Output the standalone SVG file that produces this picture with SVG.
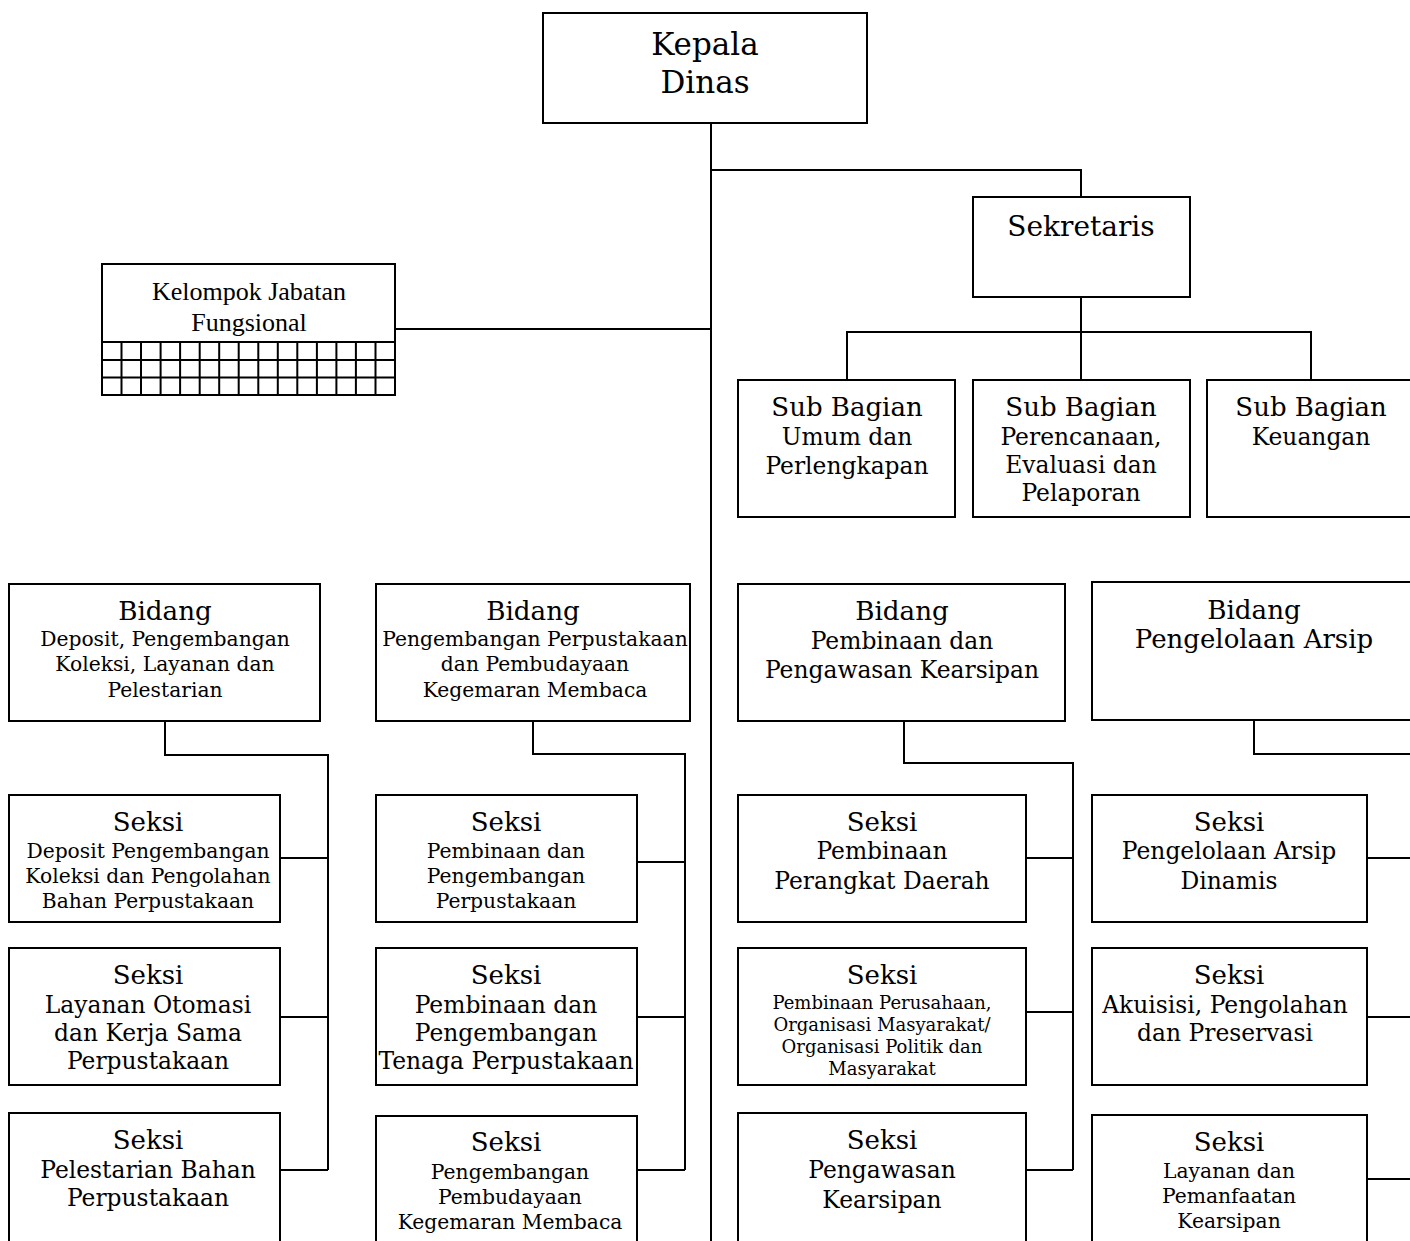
<svg xmlns="http://www.w3.org/2000/svg" width="1410" height="1241" viewBox="0 0 1410 1241">
<style>
.box{fill:#fff;stroke:#000;stroke-width:2}
.ln{fill:none;stroke:#000;stroke-width:2}
text{font-family:"DejaVu Serif","Liberation Serif",serif;fill:#000;text-anchor:middle}
.t32{font-size:31px}
.t28{font-size:28px}
.tb{font-size:26.2px}
.t26{font-size:26px}
.t24{font-size:23.4px}
.t21{font-size:20.3px}
.t17{font-size:18px}
.tm{font-family:"Liberation Serif",serif;font-size:26px}
</style>
<rect width="1410" height="1241" fill="#fff"/>
<g id="connectors">
<path class="ln" d="M711,123 V1241"/>
<path class="ln" d="M711,170 H1081 V197"/>
<path class="ln" d="M395,329 H711"/>
<path class="ln" d="M1081,297 V380 M847,380 V332 H1311 V380"/>
<path class="ln" d="M165,721 V755 H328 V1170 M280,858 H328 M280,1017 H328 M280,1170 H328"/>
<path class="ln" d="M533,721 V754 H685 V1170 M637,862 H685 M637,1017 H685 M637,1170 H685"/>
<path class="ln" d="M904,721 V763 H1073 V1170 M1026,858 H1073 M1024,1012 H1073 M1024,1170 H1073"/>
<path class="ln" d="M1254,720 V754 H1412 M1367,858 H1412 M1367,1017 H1412 M1367,1179 H1412"/>
</g>
<g id="kepala-dinas">
<rect class="box" x="543" y="13" width="324" height="110"/>
<text class="t32" x="705" y="55">Kepala</text>
<text class="t32" x="705" y="93">Dinas</text>
</g>
<g id="sekretaris">
<rect class="box" x="973" y="197" width="217" height="100"/>
<text class="t28" x="1081" y="236">Sekretaris</text>
</g>
<g id="kelompok-jabatan-fungsional">
<rect class="box" x="102" y="264" width="293" height="131"/>
<text class="tm" x="249" y="300">Kelompok Jabatan</text>
<text class="tm" x="249" y="331">Fungsional</text>
<path class="ln" d="M102,342 H395 M102,360 H395 M102,377.5 H395 M121.5,342 V395 M141,342 V395 M160.6,342 V395 M180.1,342 V395 M199.7,342 V395 M219.2,342 V395 M238.7,342 V395 M258.3,342 V395 M277.8,342 V395 M297.3,342 V395 M316.9,342 V395 M336.4,342 V395 M355.9,342 V395 M375.5,342 V395"/>
</g>
<g id="sub-bagian-umum">
<rect class="box" x="738" y="380" width="217" height="137"/>
<text class="t26" x="847" y="416">Sub Bagian</text>
<text class="t24" x="847" y="445">Umum dan</text>
<text class="t24" x="847" y="474">Perlengkapan</text>
</g>
<g id="sub-bagian-perencanaan">
<rect class="box" x="973" y="380" width="217" height="137"/>
<text class="t26" x="1081" y="416">Sub Bagian</text>
<text class="t24" x="1081" y="445">Perencanaan,</text>
<text class="t24" x="1081" y="473">Evaluasi dan</text>
<text class="t24" x="1081" y="501">Pelaporan</text>
</g>
<g id="sub-bagian-keuangan">
<rect class="box" x="1207" y="380" width="215" height="137"/>
<text class="t26" x="1311" y="416">Sub Bagian</text>
<text class="t24" x="1311" y="445">Keuangan</text>
</g>
<g id="bidang-deposit">
<rect class="box" x="9" y="584" width="311" height="137"/>
<text class="tb" x="165" y="620">Bidang</text>
<text class="t21" x="165" y="646">Deposit, Pengembangan</text>
<text class="t21" x="165" y="671">Koleksi, Layanan dan</text>
<text class="t21" x="165" y="697">Pelestarian</text>
</g>
<g id="bidang-pengembangan">
<rect class="box" x="376" y="584" width="314" height="137"/>
<text class="tb" x="533" y="620">Bidang</text>
<text class="t21" x="535" y="646">Pengembangan Perpustakaan</text>
<text class="t21" x="535" y="671">dan Pembudayaan</text>
<text class="t21" x="535" y="697">Kegemaran Membaca</text>
</g>
<g id="bidang-pembinaan">
<rect class="box" x="738" y="584" width="327" height="137"/>
<text class="tb" x="902" y="620">Bidang</text>
<text class="t24" x="902" y="649">Pembinaan dan</text>
<text class="t24" x="902" y="678">Pengawasan Kearsipan</text>
</g>
<g id="bidang-pengelolaan">
<rect class="box" x="1092" y="582" width="330" height="138"/>
<text class="tb" x="1254" y="619">Bidang</text>
<text class="t26" x="1254" y="648">Pengelolaan Arsip</text>
</g>
<g id="seksi-deposit">
<rect class="box" x="9" y="795" width="271" height="127"/>
<text class="t26" x="148" y="831">Seksi</text>
<text class="t21" x="148" y="858">Deposit Pengembangan</text>
<text class="t21" x="148" y="883">Koleksi dan Pengolahan</text>
<text class="t21" x="148" y="908">Bahan Perpustakaan</text>
</g>
<g id="seksi-layanan-otomasi">
<rect class="box" x="9" y="948" width="271" height="137"/>
<text class="t26" x="148" y="984">Seksi</text>
<text class="t24" x="148" y="1013">Layanan Otomasi</text>
<text class="t24" x="148" y="1041">dan Kerja Sama</text>
<text class="t24" x="148" y="1069">Perpustakaan</text>
</g>
<g id="seksi-pelestarian">
<rect class="box" x="9" y="1113" width="271" height="140"/>
<text class="t26" x="148" y="1149">Seksi</text>
<text class="t24" x="148" y="1178">Pelestarian Bahan</text>
<text class="t24" x="148" y="1206">Perpustakaan</text>
</g>
<g id="seksi-pembinaan-perpustakaan">
<rect class="box" x="376" y="795" width="261" height="127"/>
<text class="t26" x="506" y="831">Seksi</text>
<text class="t21" x="506" y="858">Pembinaan dan</text>
<text class="t21" x="506" y="883">Pengembangan</text>
<text class="t21" x="506" y="908">Perpustakaan</text>
</g>
<g id="seksi-tenaga-perpustakaan">
<rect class="box" x="376" y="948" width="261" height="137"/>
<text class="t26" x="506" y="984">Seksi</text>
<text class="t24" x="506" y="1013">Pembinaan dan</text>
<text class="t24" x="506" y="1041">Pengembangan</text>
<text class="t24" x="506" y="1069">Tenaga Perpustakaan</text>
</g>
<g id="seksi-pembudayaan">
<rect class="box" x="376" y="1116" width="261" height="137"/>
<text class="t26" x="506" y="1151">Seksi</text>
<text class="t21" x="510" y="1179">Pengembangan</text>
<text class="t21" x="510" y="1204">Pembudayaan</text>
<text class="t21" x="510" y="1229">Kegemaran Membaca</text>
</g>
<g id="seksi-perangkat-daerah">
<rect class="box" x="738" y="795" width="288" height="127"/>
<text class="t26" x="882" y="831">Seksi</text>
<text class="t24" x="882" y="859">Pembinaan</text>
<text class="t24" x="882" y="889">Perangkat Daerah</text>
</g>
<g id="seksi-perusahaan">
<rect class="box" x="738" y="948" width="288" height="137"/>
<text class="t26" x="882" y="984">Seksi</text>
<text class="t17" x="882" y="1009">Pembinaan Perusahaan,</text>
<text class="t17" x="882" y="1031">Organisasi Masyarakat/</text>
<text class="t17" x="882" y="1053">Organisasi Politik dan</text>
<text class="t17" x="882" y="1075">Masyarakat</text>
</g>
<g id="seksi-pengawasan">
<rect class="box" x="738" y="1113" width="288" height="140"/>
<text class="t26" x="882" y="1149">Seksi</text>
<text class="t24" x="882" y="1178">Pengawasan</text>
<text class="t24" x="882" y="1208">Kearsipan</text>
</g>
<g id="seksi-arsip-dinamis">
<rect class="box" x="1092" y="795" width="275" height="127"/>
<text class="t26" x="1229" y="831">Seksi</text>
<text class="t24" x="1229" y="859">Pengelolaan Arsip</text>
<text class="t24" x="1229" y="889">Dinamis</text>
</g>
<g id="seksi-akuisisi">
<rect class="box" x="1092" y="948" width="275" height="137"/>
<text class="t26" x="1229" y="984">Seksi</text>
<text class="t24" x="1225" y="1013">Akuisisi, Pengolahan</text>
<text class="t24" x="1225" y="1041">dan Preservasi</text>
</g>
<g id="seksi-layanan-kearsipan">
<rect class="box" x="1092" y="1115" width="275" height="138"/>
<text class="t26" x="1229" y="1151">Seksi</text>
<text class="t21" x="1229" y="1178">Layanan dan</text>
<text class="t21" x="1229" y="1203">Pemanfaatan</text>
<text class="t21" x="1229" y="1228">Kearsipan</text>
</g>
</svg>
